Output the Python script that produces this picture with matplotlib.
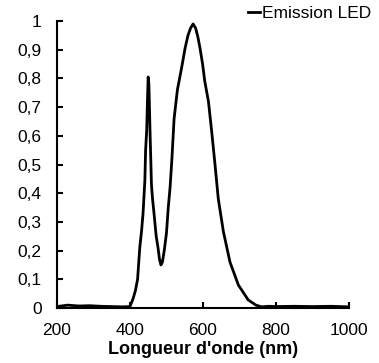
import matplotlib.pyplot as plt
from matplotlib.ticker import FixedLocator, FixedFormatter

plt.rcParams['font.family'] = ['Liberation Sans', 'DejaVu Sans']

# spectre
wavelength = [200, 230, 260, 290, 320, 350, 380, 400, 408, 415, 421, 427, 432, 436,
              441, 443, 446, 448, 450, 452, 455, 459, 462, 466, 472, 477, 481, 485,
              489, 494, 500, 505, 510, 515, 521, 530, 542, 551, 559, 566, 573, 580,
              586, 592, 599, 605, 615, 624, 633, 642, 656, 674, 697, 724, 745, 761,
              780, 800, 850, 900, 950, 1000]
emission = [0.005, 0.01, 0.007, 0.008, 0.006, 0.005, 0.004, 0.005, 0.03, 0.06, 0.1,
            0.21, 0.27, 0.33, 0.446, 0.55, 0.62, 0.72, 0.805, 0.78, 0.62, 0.43, 0.38,
            0.33, 0.25, 0.21, 0.17, 0.15, 0.16, 0.2, 0.26, 0.35, 0.42, 0.52, 0.66,
            0.76, 0.84, 0.905, 0.95, 0.975, 0.99, 0.975, 0.945, 0.905, 0.85, 0.79,
            0.72, 0.614, 0.50, 0.38, 0.266, 0.16, 0.08, 0.028, 0.01, 0.004,
            0.006, 0.005, 0.006, 0.005, 0.006, 0.004]

yticks = [0, 0.1, 0.2, 0.3, 0.4, 0.5, 0.6, 0.7, 0.8, 0.9, 1]
ylabels = ['0', '0,1', '0,2', '0,3', '0,4', '0,5', '0,6', '0,7', '0,8', '0,9', '1']
xticks = [200, 400, 600, 800, 1000]

fig = plt.figure(figsize=(3.79, 3.63), dpi=100)
ax = fig.add_axes([0.150, 0.1515, 0.771, 0.7905])
ax.plot(wavelength, emission, color='black', lw=2, label='Emission LED')

ax.set_xlim(200, 1000)
ax.set_ylim(0, 1)
ax.yaxis.set_major_locator(FixedLocator(yticks))
ax.yaxis.set_major_formatter(FixedFormatter(ylabels))
ax.set_xticks(xticks)
ax.tick_params(direction='in', length=4, width=1.5, labelsize=12.5)
ax.tick_params(axis='y', pad=11)
ax.tick_params(axis='x', pad=11)
for s in ['top', 'right']:
    ax.spines[s].set_visible(False)
for s in ['left', 'bottom']:
    ax.spines[s].set_linewidth(1.5)
ax.set_xlabel("Longueur d'onde (nm)", fontsize=13, fontweight='bold', labelpad=2)

ax.legend(loc='upper right', bbox_to_anchor=(0.98, 0.985), bbox_transform=fig.transFigure,
          frameon=False, fontsize=12.5, handlelength=0.7, handletextpad=0.1,
          borderpad=0, borderaxespad=0)

fig.savefig('out.png', dpi=100)
